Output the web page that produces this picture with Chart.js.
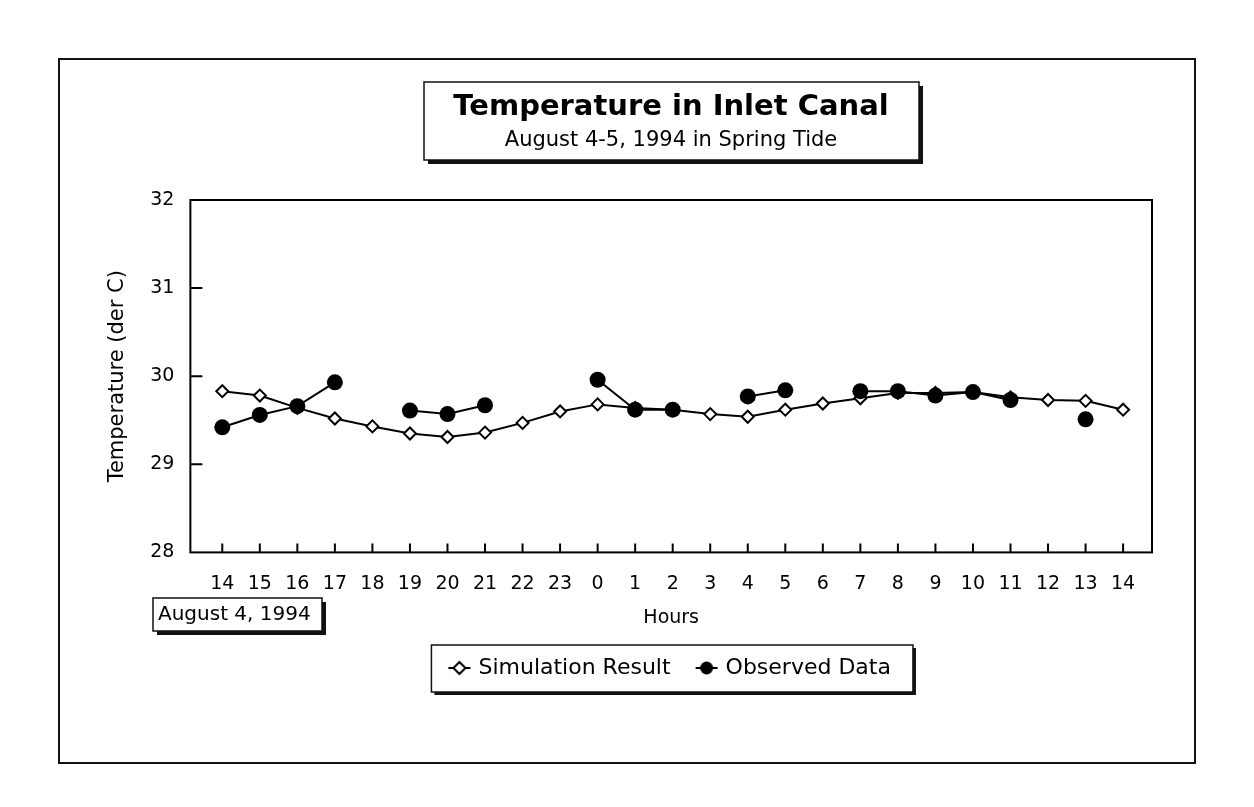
<!DOCTYPE html>
<html lang="en">
<head>
<meta charset="UTF-8">
<title>Temperature in Inlet Canal</title>
<script src="https://cdn.jsdelivr.net/npm/chart.js@4"></script>
<style>
  html, body { margin: 0; padding: 0; background: #fff; }
</style>
</head>
<body>
<canvas id="tempChart" width="1254" height="807"></canvas>
<script>
// hour of day, Aug 4 14:00 through Aug 5 14:00
const hours = [14, 15, 16, 17, 18, 19, 20, 21, 22, 23, 0, 1, 2, 3, 4, 5, 6, 7, 8, 9, 10, 11, 12, 13, 14];
const simulated = [29.83, 29.78, 29.64, 29.52, 29.43, 29.35, 29.31, 29.36, 29.47, 29.60, 29.68, 29.64, 29.62,
                   29.57, 29.54, 29.62, 29.69, 29.75, 29.81, 29.81, 29.82, 29.76, 29.73, 29.72, 29.62];
const observed = [29.42, 29.56, 29.66, 29.93, null, 29.61, 29.57, 29.67, null, null, 29.96, 29.62, 29.62,
                  null, 29.77, 29.84, null, 29.83, 29.83, 29.78, 29.82, 29.73, null, 29.51, null];
const yInnerTicks = [29, 30, 31];

const FONT = "'DejaVu Sans', sans-serif";

// small line + marker pictures for the legend
function legendMark(filled) {
    const c = document.createElement('canvas');
    c.width = 24; c.height = 18;
    const g = c.getContext('2d');
    g.strokeStyle = '#000';
    g.lineWidth = 2;
    g.beginPath(); g.moveTo(1, 9); g.lineTo(23, 9); g.stroke();
    g.beginPath();
    if (filled) {
        g.arc(12, 9, 6.5, 0, Math.PI * 2);
        g.fillStyle = '#000';
        g.fill();
    } else {
        g.moveTo(12, 3); g.lineTo(18, 9); g.lineTo(12, 15); g.lineTo(6, 9); g.closePath();
        g.fillStyle = '#fff';
        g.fill();
        g.stroke();
    }
    return c;
}

function shadowBox(ctx, x, y, w, h, off) {
    ctx.fillStyle = '#111';
    ctx.fillRect(x + off, y + off, w, h);
    ctx.fillStyle = '#fff';
    ctx.fillRect(x, y, w, h);
    ctx.strokeStyle = '#111';
    ctx.lineWidth = 1.5;
    ctx.strokeRect(x, y, w, h);
}

const decorations = {
    id: 'decorations',
    beforeDraw(chart) {
        const ctx = chart.ctx;
        ctx.save();
        ctx.fillStyle = '#fff';
        ctx.fillRect(0, 0, chart.width, chart.height);

        // outer frame
        ctx.strokeStyle = '#111';
        ctx.lineWidth = 2;
        ctx.strokeRect(59, 59, 1136, 704);

        // title box
        shadowBox(ctx, 424, 82, 495, 78, 4);
        ctx.fillStyle = '#000';
        ctx.textAlign = 'center';
        ctx.textBaseline = 'middle';
        ctx.font = `bold 29px ${FONT}`;
        ctx.fillText('Temperature in Inlet Canal', 671, 107);
        ctx.font = `21px ${FONT}`;
        ctx.fillText('August 4-5, 1994 in Spring Tide', 671, 141);

        // date box under the axis
        shadowBox(ctx, 153, 598, 169, 33, 4);
        ctx.fillStyle = '#000';
        ctx.textAlign = 'left';
        ctx.font = `20px ${FONT}`;
        ctx.fillText('August 4, 1994', 158, 615);

        // legend frame, sized from the legend items
        const hb = chart.legend.legendHitBoxes;
        if (hb && hb.length) {
            const left = Math.min(...hb.map(b => b.left)) - 20;
            const right = Math.max(...hb.map(b => b.left + b.width)) + 22;
            const mid = hb[0].top + hb[0].height / 2;
            shadowBox(ctx, left, mid - 23, right - left, 47, 3);
        }
        ctx.restore();
    },
    afterDraw(chart) {
        const {ctx, chartArea: a, scales: {x, y}} = chart;
        ctx.save();
        ctx.strokeStyle = '#000';
        ctx.lineWidth = 2;
        ctx.strokeRect(a.left, a.top, a.right - a.left, a.bottom - a.top);
        ctx.beginPath();
        hours.forEach((h, i) => {
            const px = x.getPixelForValue(i);
            ctx.moveTo(px, a.bottom);
            ctx.lineTo(px, a.bottom - 9);
        });
        yInnerTicks.forEach(v => {
            const py = y.getPixelForValue(v);
            ctx.moveTo(a.left, py);
            ctx.lineTo(a.left + 12, py);
        });
        ctx.stroke();
        ctx.restore();
    }
};

const marks = [legendMark(true), legendMark(false)];

new Chart(document.getElementById('tempChart'), {
    type: 'line',
    data: {
        datasets: [{
            label: 'Observed Data',
            data: observed.map((v, i) => ({x: i, y: v})),
            borderColor: '#000',
            backgroundColor: '#000',
            borderWidth: 2,
            pointStyle: 'circle',
            pointRadius: 8,
            pointBorderWidth: 0,
            spanGaps: false
        }, {
            label: 'Simulation Result',
            data: simulated.map((v, i) => ({x: i, y: v})),
            borderColor: '#000',
            backgroundColor: '#fff',
            pointBorderColor: '#000',
            borderWidth: 2,
            pointStyle: 'rectRot',
            pointRadius: 6,
            pointBorderWidth: 2
        }]
    },
    options: {
        responsive: false,
        animation: false,
        events: [],
        layout: { padding: { left: 101, right: 102, top: 200, bottom: 118 } },
        scales: {
            x: {
                type: 'linear',
                min: -0.85,
                max: 24.77,
                afterBuildTicks: scale => { scale.ticks = hours.map((h, i) => ({value: i})); },
                grid: { display: false, drawTicks: false },
                border: { display: false },
                ticks: {
                    autoSkip: false,
                    maxRotation: 0,
                    padding: 20,
                    color: '#000',
                    font: { family: FONT, size: 19 },
                    callback: v => String(hours[v])
                },
                title: {
                    display: true,
                    text: 'Hours',
                    color: '#000',
                    font: { family: FONT, size: 19 },
                    padding: { top: -9, bottom: 0 }
                }
            },
            y: {
                min: 28,
                max: 32,
                grid: { display: false, drawTicks: false },
                border: { display: false },
                ticks: {
                    stepSize: 1,
                    padding: 16,
                    color: '#000',
                    font: { family: FONT, size: 19 }
                },
                title: {
                    display: true,
                    text: 'Temperature (der C)',
                    color: '#000',
                    font: { family: FONT, size: 21 },
                    padding: { top: 4, bottom: 4 }
                }
            }
        },
        plugins: {
            tooltip: { enabled: false },
            legend: {
                position: 'bottom',
                fullSize: false,
                labels: {
                    color: '#000',
                    font: { family: FONT, size: 22 },
                    usePointStyle: true,
                    pointStyleWidth: 16,
                    padding: 28,
                    sort: (a, b) => b.datasetIndex - a.datasetIndex,
                    generateLabels: chart => Chart.defaults.plugins.legend.labels.generateLabels(chart)
                        .map(item => Object.assign(item, { pointStyle: marks[item.datasetIndex] }))
                }
            }
        }
    },
    plugins: [decorations]
});
</script>
</body>
</html>
